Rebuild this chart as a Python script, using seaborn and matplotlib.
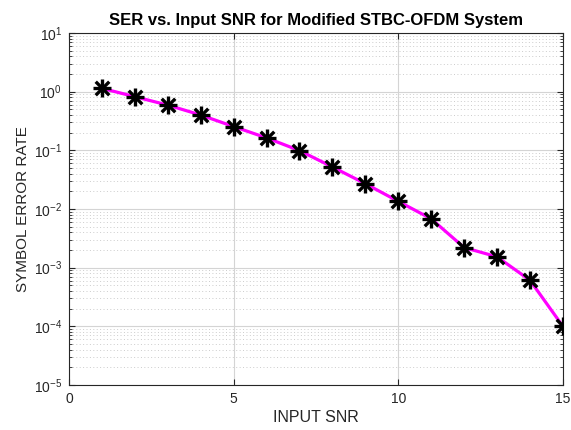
import numpy as np
import pandas as pd
import matplotlib
matplotlib.use('Agg')
import matplotlib.pyplot as plt
import matplotlib.ticker as mticker
import seaborn as sns

# data
snr = [1, 2, 3, 4, 5, 6, 7, 8, 9, 10, 11, 12, 13, 14, 15]
ser = [1.14, 0.82, 0.59, 0.40, 0.254, 0.163, 0.099, 0.052, 0.027,
       0.0135, 0.0068, 0.0022, 0.00153, 0.00061, 0.0001]
df = pd.DataFrame({'snr': snr, 'ser': ser})

sns.set_style('white')
plt.rcParams['font.family'] = ['Liberation Sans', 'DejaVu Sans']

fig = plt.figure(figsize=(5.71, 4.30), dpi=100)
ax = fig.add_axes([0.1208, 0.1047, 0.865, 0.8186])

sns.lineplot(x='snr', y='ser', data=df, color='#ff00ff', linewidth=2.3, ax=ax, zorder=3)
sns.scatterplot(x='snr', y='ser', data=df, marker='+', s=150, color='black',
                linewidth=2.4, ax=ax, zorder=4)
sns.scatterplot(x='snr', y='ser', data=df, marker='x', s=95, color='black',
                linewidth=2.4, ax=ax, zorder=4)

ax.set_yscale('log')
ax.set_xlim(0, 15)
ax.set_ylim(1e-5, 10)
ax.set_xticks([0, 5, 10, 15])
ax.yaxis.set_major_locator(mticker.LogLocator(base=10, numticks=10))
ax.yaxis.set_minor_locator(mticker.LogLocator(base=10, subs=np.arange(2, 10), numticks=20))
ax.yaxis.set_minor_formatter(mticker.NullFormatter())

ax.grid(True, which='major', color='#d4d4d4', linestyle='-', linewidth=0.8)
ax.grid(True, which='minor', axis='y', color='#cccccc', linestyle=(0, (1, 2.5)), linewidth=0.7)
ax.set_axisbelow(True)

for s in ax.spines.values():
    s.set_visible(True)
    s.set_color('#262626')
    s.set_linewidth(0.8)
ax.tick_params(which='both', direction='in', top=True, right=True, left=True, bottom=True,
               colors='#262626', labelcolor='#262626', labelsize=10)
ax.tick_params(which='major', length=4, pad=5)
ax.tick_params(which='minor', length=2.5)

ax.set_xlabel('INPUT SNR', fontsize=11.5, color='#262626', labelpad=3)
ax.set_ylabel('SYMBOL ERROR RATE', fontsize=11, color='#262626', labelpad=3)
ax.set_title('SER vs. Input SNR for Modified STBC-OFDM System', fontsize=12,
             fontweight='bold', color='black', pad=6)

fig.savefig('out.png', dpi=100)
